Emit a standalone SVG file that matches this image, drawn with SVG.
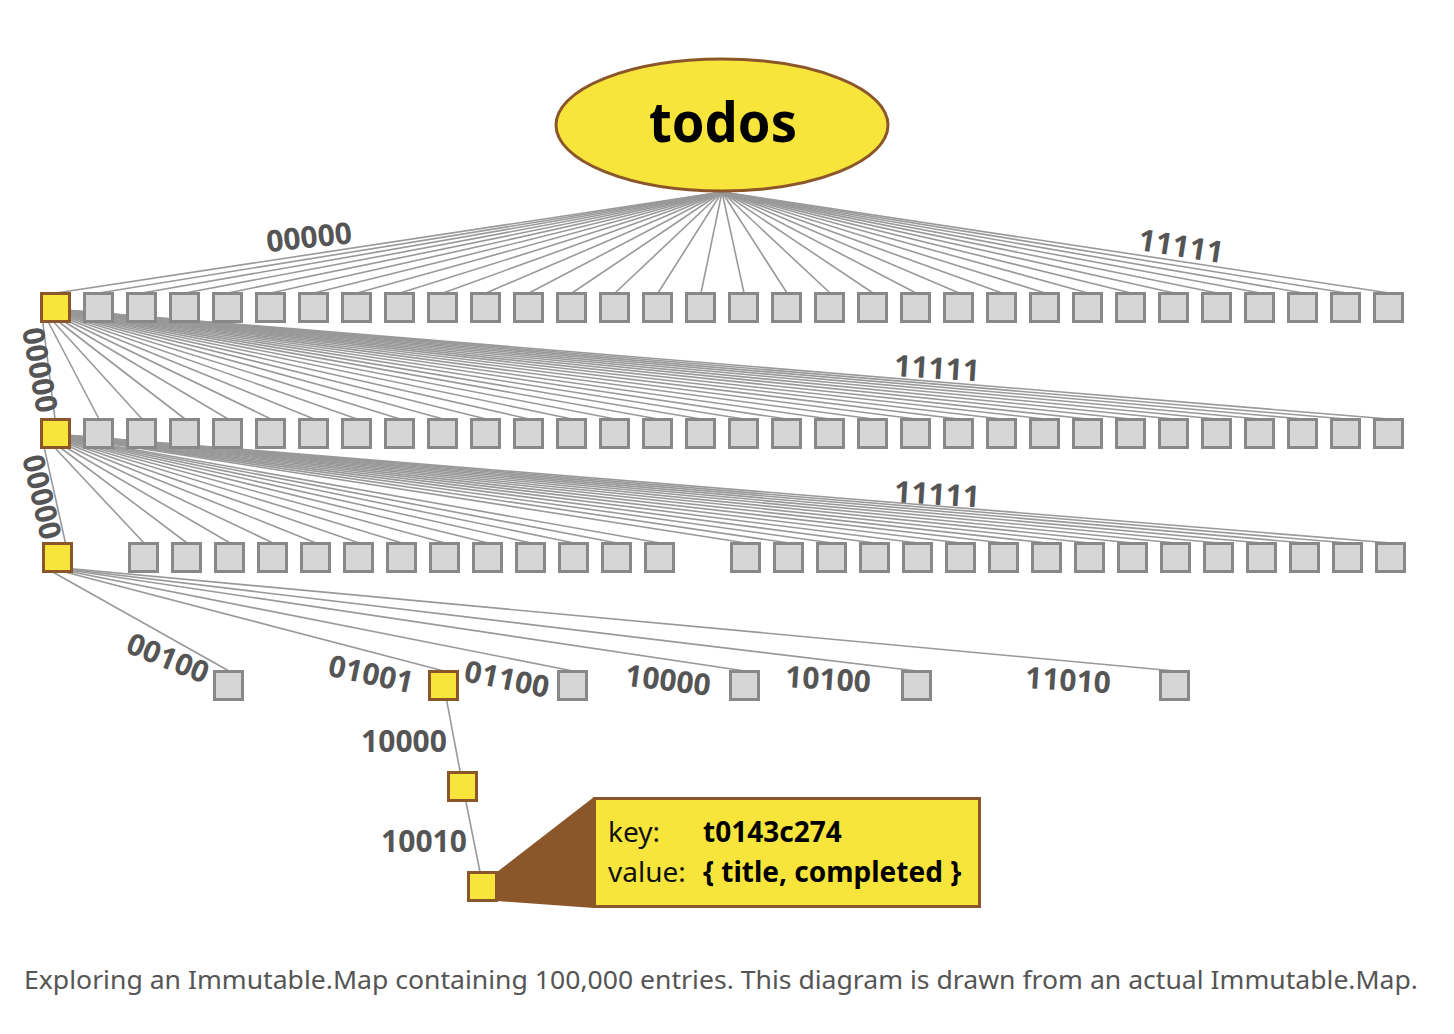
<svg xmlns="http://www.w3.org/2000/svg" width="1454" height="1034" viewBox="0 0 1454 1034">
<style>
.g{fill:#d6d6d6;stroke:#888;stroke-width:3}
.y{fill:#f7e53b;stroke:#8b572a;stroke-width:3}
#connectors line{stroke:#999;stroke-width:1.6}
.lb{font-family:"Noto Sans","Open Sans",sans-serif;font-weight:700;font-size:30px;fill:#555;text-anchor:middle}
.ct{font-family:"Noto Sans","Open Sans",sans-serif;font-size:28px;fill:#111}
.cb{font-weight:700;fill:#000}
</style>
<rect width="1454" height="1034" fill="#fff"/>
<g id="connectors">
<line x1="722" y1="192" x2="56" y2="293"/><line x1="722" y1="192" x2="99" y2="293"/><line x1="722" y1="192" x2="142" y2="293"/><line x1="722" y1="192" x2="185" y2="293"/><line x1="722" y1="192" x2="228" y2="293"/><line x1="722" y1="192" x2="271" y2="293"/><line x1="722" y1="192" x2="314" y2="293"/><line x1="722" y1="192" x2="357" y2="293"/><line x1="722" y1="192" x2="400" y2="293"/><line x1="722" y1="192" x2="443" y2="293"/><line x1="722" y1="192" x2="486" y2="293"/><line x1="722" y1="192" x2="529" y2="293"/><line x1="722" y1="192" x2="572" y2="293"/><line x1="722" y1="192" x2="615" y2="293"/><line x1="722" y1="192" x2="658" y2="293"/><line x1="722" y1="192" x2="701" y2="293"/><line x1="722" y1="192" x2="744" y2="293"/><line x1="722" y1="192" x2="787" y2="293"/><line x1="722" y1="192" x2="830" y2="293"/><line x1="722" y1="192" x2="873" y2="293"/><line x1="722" y1="192" x2="916" y2="293"/><line x1="722" y1="192" x2="959" y2="293"/><line x1="722" y1="192" x2="1002" y2="293"/><line x1="722" y1="192" x2="1045" y2="293"/><line x1="722" y1="192" x2="1088" y2="293"/><line x1="722" y1="192" x2="1131" y2="293"/><line x1="722" y1="192" x2="1174" y2="293"/><line x1="722" y1="192" x2="1217" y2="293"/><line x1="722" y1="192" x2="1260" y2="293"/><line x1="722" y1="192" x2="1303" y2="293"/><line x1="722" y1="192" x2="1346" y2="293"/><line x1="722" y1="192" x2="1389" y2="293"/>
<line x1="41" y1="308" x2="55" y2="419"/><line x1="41" y1="308" x2="99" y2="419"/><line x1="41" y1="308" x2="142" y2="419"/><line x1="41" y1="308" x2="185" y2="419"/><line x1="41" y1="308" x2="228" y2="419"/><line x1="41" y1="308" x2="271" y2="419"/><line x1="41" y1="308" x2="314" y2="419"/><line x1="41" y1="308" x2="357" y2="419"/><line x1="41" y1="308" x2="400" y2="419"/><line x1="41" y1="308" x2="443" y2="419"/><line x1="41" y1="308" x2="486" y2="419"/><line x1="41" y1="308" x2="529" y2="419"/><line x1="41" y1="308" x2="572" y2="419"/><line x1="41" y1="308" x2="615" y2="419"/><line x1="41" y1="308" x2="658" y2="419"/><line x1="41" y1="308" x2="701" y2="419"/><line x1="41" y1="308" x2="744" y2="419"/><line x1="41" y1="308" x2="787" y2="419"/><line x1="41" y1="308" x2="830" y2="419"/><line x1="41" y1="308" x2="873" y2="419"/><line x1="41" y1="308" x2="916" y2="419"/><line x1="41" y1="308" x2="959" y2="419"/><line x1="41" y1="308" x2="1002" y2="419"/><line x1="41" y1="308" x2="1045" y2="419"/><line x1="41" y1="308" x2="1088" y2="419"/><line x1="41" y1="308" x2="1131" y2="419"/><line x1="41" y1="308" x2="1174" y2="419"/><line x1="41" y1="308" x2="1217" y2="419"/><line x1="41" y1="308" x2="1260" y2="419"/><line x1="41" y1="308" x2="1303" y2="419"/><line x1="41" y1="308" x2="1346" y2="419"/><line x1="41" y1="308" x2="1389" y2="419"/>
<line x1="41" y1="433" x2="67" y2="550"/><line x1="41" y1="433" x2="144" y2="543"/><line x1="41" y1="433" x2="187" y2="543"/><line x1="41" y1="433" x2="230" y2="543"/><line x1="41" y1="433" x2="273" y2="543"/><line x1="41" y1="433" x2="316" y2="543"/><line x1="41" y1="433" x2="359" y2="543"/><line x1="41" y1="433" x2="402" y2="543"/><line x1="41" y1="433" x2="445" y2="543"/><line x1="41" y1="433" x2="488" y2="543"/><line x1="41" y1="433" x2="531" y2="543"/><line x1="41" y1="433" x2="574" y2="543"/><line x1="41" y1="433" x2="617" y2="543"/><line x1="41" y1="433" x2="660" y2="543"/><line x1="41" y1="433" x2="746" y2="543"/><line x1="41" y1="433" x2="789" y2="543"/><line x1="41" y1="433" x2="832" y2="543"/><line x1="41" y1="433" x2="875" y2="543"/><line x1="41" y1="433" x2="918" y2="543"/><line x1="41" y1="433" x2="961" y2="543"/><line x1="41" y1="433" x2="1004" y2="543"/><line x1="41" y1="433" x2="1047" y2="543"/><line x1="41" y1="433" x2="1090" y2="543"/><line x1="41" y1="433" x2="1133" y2="543"/><line x1="41" y1="433" x2="1176" y2="543"/><line x1="41" y1="433" x2="1219" y2="543"/><line x1="41" y1="433" x2="1262" y2="543"/><line x1="41" y1="433" x2="1305" y2="543"/><line x1="41" y1="433" x2="1348" y2="543"/><line x1="41" y1="433" x2="1391" y2="543"/>
<line x1="42" y1="566" x2="229" y2="671"/><line x1="42" y1="566" x2="444" y2="671"/><line x1="42" y1="566" x2="573" y2="671"/><line x1="42" y1="566" x2="745" y2="671"/><line x1="42" y1="566" x2="917" y2="671"/><line x1="42" y1="566" x2="1175" y2="671"/>
<line x1="444" y1="686" x2="463" y2="787"/><line x1="463" y1="787" x2="483" y2="887"/>
</g>
<g id="labels">
<text class="lb" transform="translate(309,237) rotate(-6)" y="10.7">00000</text>
<text class="lb" transform="translate(1181,246) rotate(9)" y="10.7">11111</text>
<text class="lb" transform="translate(40,370) rotate(80)" y="10.7">00000</text>
<text class="lb" transform="translate(937,368) rotate(3.5)" y="10.7">11111</text>
<text class="lb" transform="translate(42,497) rotate(77)" y="10.7">00000</text>
<text class="lb" transform="translate(937,494) rotate(3.5)" y="10.7">11111</text>
<text class="lb" transform="translate(168,658) rotate(22)" y="10.7">00100</text>
<text class="lb" transform="translate(371,674) rotate(12)" y="10.7">01001</text>
<text class="lb" transform="translate(507,679) rotate(11.5)" y="10.7">01100</text>
<text class="lb" transform="translate(668,680) rotate(7)" y="10.7">10000</text>
<text class="lb" transform="translate(828,679) rotate(3.5)" y="10.7">10100</text>
<text class="lb" transform="translate(1068,680) rotate(3.5)" y="10.7">11010</text>
<text class="lb" x="404" y="752">10000</text>
<text class="lb" x="424" y="852">10010</text>
</g>
<g id="root">
<ellipse cx="722" cy="125" rx="166" ry="66" class="y"/>
<text x="723" y="142" text-anchor="middle" font-family="'Noto Sans','Open Sans',sans-serif" font-weight="700" font-size="56" fill="#000" textLength="148" lengthAdjust="spacingAndGlyphs">todos</text>
</g>
<g id="r1-0"><rect class="y" x="41.5" y="293.5" width="28" height="28"/></g>
<g id="r1-1"><rect class="g" x="84.5" y="293.5" width="28" height="28"/></g>
<g id="r1-2"><rect class="g" x="127.5" y="293.5" width="28" height="28"/></g>
<g id="r1-3"><rect class="g" x="170.5" y="293.5" width="28" height="28"/></g>
<g id="r1-4"><rect class="g" x="213.5" y="293.5" width="28" height="28"/></g>
<g id="r1-5"><rect class="g" x="256.5" y="293.5" width="28" height="28"/></g>
<g id="r1-6"><rect class="g" x="299.5" y="293.5" width="28" height="28"/></g>
<g id="r1-7"><rect class="g" x="342.5" y="293.5" width="28" height="28"/></g>
<g id="r1-8"><rect class="g" x="385.5" y="293.5" width="28" height="28"/></g>
<g id="r1-9"><rect class="g" x="428.5" y="293.5" width="28" height="28"/></g>
<g id="r1-10"><rect class="g" x="471.5" y="293.5" width="28" height="28"/></g>
<g id="r1-11"><rect class="g" x="514.5" y="293.5" width="28" height="28"/></g>
<g id="r1-12"><rect class="g" x="557.5" y="293.5" width="28" height="28"/></g>
<g id="r1-13"><rect class="g" x="600.5" y="293.5" width="28" height="28"/></g>
<g id="r1-14"><rect class="g" x="643.5" y="293.5" width="28" height="28"/></g>
<g id="r1-15"><rect class="g" x="686.5" y="293.5" width="28" height="28"/></g>
<g id="r1-16"><rect class="g" x="729.5" y="293.5" width="28" height="28"/></g>
<g id="r1-17"><rect class="g" x="772.5" y="293.5" width="28" height="28"/></g>
<g id="r1-18"><rect class="g" x="815.5" y="293.5" width="28" height="28"/></g>
<g id="r1-19"><rect class="g" x="858.5" y="293.5" width="28" height="28"/></g>
<g id="r1-20"><rect class="g" x="901.5" y="293.5" width="28" height="28"/></g>
<g id="r1-21"><rect class="g" x="944.5" y="293.5" width="28" height="28"/></g>
<g id="r1-22"><rect class="g" x="987.5" y="293.5" width="28" height="28"/></g>
<g id="r1-23"><rect class="g" x="1030.5" y="293.5" width="28" height="28"/></g>
<g id="r1-24"><rect class="g" x="1073.5" y="293.5" width="28" height="28"/></g>
<g id="r1-25"><rect class="g" x="1116.5" y="293.5" width="28" height="28"/></g>
<g id="r1-26"><rect class="g" x="1159.5" y="293.5" width="28" height="28"/></g>
<g id="r1-27"><rect class="g" x="1202.5" y="293.5" width="28" height="28"/></g>
<g id="r1-28"><rect class="g" x="1245.5" y="293.5" width="28" height="28"/></g>
<g id="r1-29"><rect class="g" x="1288.5" y="293.5" width="28" height="28"/></g>
<g id="r1-30"><rect class="g" x="1331.5" y="293.5" width="28" height="28"/></g>
<g id="r1-31"><rect class="g" x="1374.5" y="293.5" width="28" height="28"/></g>
<g id="r2-0"><rect class="y" x="41.5" y="419.5" width="28" height="28"/></g>
<g id="r2-1"><rect class="g" x="84.5" y="419.5" width="28" height="28"/></g>
<g id="r2-2"><rect class="g" x="127.5" y="419.5" width="28" height="28"/></g>
<g id="r2-3"><rect class="g" x="170.5" y="419.5" width="28" height="28"/></g>
<g id="r2-4"><rect class="g" x="213.5" y="419.5" width="28" height="28"/></g>
<g id="r2-5"><rect class="g" x="256.5" y="419.5" width="28" height="28"/></g>
<g id="r2-6"><rect class="g" x="299.5" y="419.5" width="28" height="28"/></g>
<g id="r2-7"><rect class="g" x="342.5" y="419.5" width="28" height="28"/></g>
<g id="r2-8"><rect class="g" x="385.5" y="419.5" width="28" height="28"/></g>
<g id="r2-9"><rect class="g" x="428.5" y="419.5" width="28" height="28"/></g>
<g id="r2-10"><rect class="g" x="471.5" y="419.5" width="28" height="28"/></g>
<g id="r2-11"><rect class="g" x="514.5" y="419.5" width="28" height="28"/></g>
<g id="r2-12"><rect class="g" x="557.5" y="419.5" width="28" height="28"/></g>
<g id="r2-13"><rect class="g" x="600.5" y="419.5" width="28" height="28"/></g>
<g id="r2-14"><rect class="g" x="643.5" y="419.5" width="28" height="28"/></g>
<g id="r2-15"><rect class="g" x="686.5" y="419.5" width="28" height="28"/></g>
<g id="r2-16"><rect class="g" x="729.5" y="419.5" width="28" height="28"/></g>
<g id="r2-17"><rect class="g" x="772.5" y="419.5" width="28" height="28"/></g>
<g id="r2-18"><rect class="g" x="815.5" y="419.5" width="28" height="28"/></g>
<g id="r2-19"><rect class="g" x="858.5" y="419.5" width="28" height="28"/></g>
<g id="r2-20"><rect class="g" x="901.5" y="419.5" width="28" height="28"/></g>
<g id="r2-21"><rect class="g" x="944.5" y="419.5" width="28" height="28"/></g>
<g id="r2-22"><rect class="g" x="987.5" y="419.5" width="28" height="28"/></g>
<g id="r2-23"><rect class="g" x="1030.5" y="419.5" width="28" height="28"/></g>
<g id="r2-24"><rect class="g" x="1073.5" y="419.5" width="28" height="28"/></g>
<g id="r2-25"><rect class="g" x="1116.5" y="419.5" width="28" height="28"/></g>
<g id="r2-26"><rect class="g" x="1159.5" y="419.5" width="28" height="28"/></g>
<g id="r2-27"><rect class="g" x="1202.5" y="419.5" width="28" height="28"/></g>
<g id="r2-28"><rect class="g" x="1245.5" y="419.5" width="28" height="28"/></g>
<g id="r2-29"><rect class="g" x="1288.5" y="419.5" width="28" height="28"/></g>
<g id="r2-30"><rect class="g" x="1331.5" y="419.5" width="28" height="28"/></g>
<g id="r2-31"><rect class="g" x="1374.5" y="419.5" width="28" height="28"/></g>
<g id="r3-0"><rect class="y" x="43.5" y="543.5" width="28" height="28"/></g>
<g id="r3-2"><rect class="g" x="129.5" y="543.5" width="28" height="28"/></g>
<g id="r3-3"><rect class="g" x="172.5" y="543.5" width="28" height="28"/></g>
<g id="r3-4"><rect class="g" x="215.5" y="543.5" width="28" height="28"/></g>
<g id="r3-5"><rect class="g" x="258.5" y="543.5" width="28" height="28"/></g>
<g id="r3-6"><rect class="g" x="301.5" y="543.5" width="28" height="28"/></g>
<g id="r3-7"><rect class="g" x="344.5" y="543.5" width="28" height="28"/></g>
<g id="r3-8"><rect class="g" x="387.5" y="543.5" width="28" height="28"/></g>
<g id="r3-9"><rect class="g" x="430.5" y="543.5" width="28" height="28"/></g>
<g id="r3-10"><rect class="g" x="473.5" y="543.5" width="28" height="28"/></g>
<g id="r3-11"><rect class="g" x="516.5" y="543.5" width="28" height="28"/></g>
<g id="r3-12"><rect class="g" x="559.5" y="543.5" width="28" height="28"/></g>
<g id="r3-13"><rect class="g" x="602.5" y="543.5" width="28" height="28"/></g>
<g id="r3-14"><rect class="g" x="645.5" y="543.5" width="28" height="28"/></g>
<g id="r3-16"><rect class="g" x="731.5" y="543.5" width="28" height="28"/></g>
<g id="r3-17"><rect class="g" x="774.5" y="543.5" width="28" height="28"/></g>
<g id="r3-18"><rect class="g" x="817.5" y="543.5" width="28" height="28"/></g>
<g id="r3-19"><rect class="g" x="860.5" y="543.5" width="28" height="28"/></g>
<g id="r3-20"><rect class="g" x="903.5" y="543.5" width="28" height="28"/></g>
<g id="r3-21"><rect class="g" x="946.5" y="543.5" width="28" height="28"/></g>
<g id="r3-22"><rect class="g" x="989.5" y="543.5" width="28" height="28"/></g>
<g id="r3-23"><rect class="g" x="1032.5" y="543.5" width="28" height="28"/></g>
<g id="r3-24"><rect class="g" x="1075.5" y="543.5" width="28" height="28"/></g>
<g id="r3-25"><rect class="g" x="1118.5" y="543.5" width="28" height="28"/></g>
<g id="r3-26"><rect class="g" x="1161.5" y="543.5" width="28" height="28"/></g>
<g id="r3-27"><rect class="g" x="1204.5" y="543.5" width="28" height="28"/></g>
<g id="r3-28"><rect class="g" x="1247.5" y="543.5" width="28" height="28"/></g>
<g id="r3-29"><rect class="g" x="1290.5" y="543.5" width="28" height="28"/></g>
<g id="r3-30"><rect class="g" x="1333.5" y="543.5" width="28" height="28"/></g>
<g id="r3-31"><rect class="g" x="1376.5" y="543.5" width="28" height="28"/></g>
<g id="r4-00100"><rect class="g" x="214.5" y="671.5" width="28" height="28"/></g>
<g id="r4-01001"><rect class="y" x="429.5" y="671.5" width="28" height="28"/></g>
<g id="r4-01100"><rect class="g" x="558.5" y="671.5" width="28" height="28"/></g>
<g id="r4-10000"><rect class="g" x="730.5" y="671.5" width="28" height="28"/></g>
<g id="r4-10100"><rect class="g" x="902.5" y="671.5" width="28" height="28"/></g>
<g id="r4-11010"><rect class="g" x="1160.5" y="671.5" width="28" height="28"/></g>
<g id="r5-10000"><rect class="y" x="448.5" y="772.5" width="28" height="28"/></g>
<g id="callout">
<polygon points="497,872 594,797 594,908 497,901" fill="#8b572a"/>
<rect x="594.5" y="798.5" width="385" height="108" fill="#f7e53b" stroke="#8b572a" stroke-width="3"/>
<text class="ct" x="608" y="842">key:</text>
<text class="ct cb" x="703" y="842">t0143c274</text>
<text class="ct" x="608" y="882">value:</text>
<text class="ct cb" x="703" y="882">{ title, completed }</text>
</g>
<g id="r6-10010"><rect class="y" x="468.5" y="872.5" width="28" height="28"/></g>
<text x="24" y="989" font-family="'Noto Sans','Open Sans',sans-serif" font-size="26" fill="#555" textLength="1394" lengthAdjust="spacingAndGlyphs">Exploring an Immutable.Map containing 100,000 entries. This diagram is drawn from an actual Immutable.Map.</text>
</svg>
